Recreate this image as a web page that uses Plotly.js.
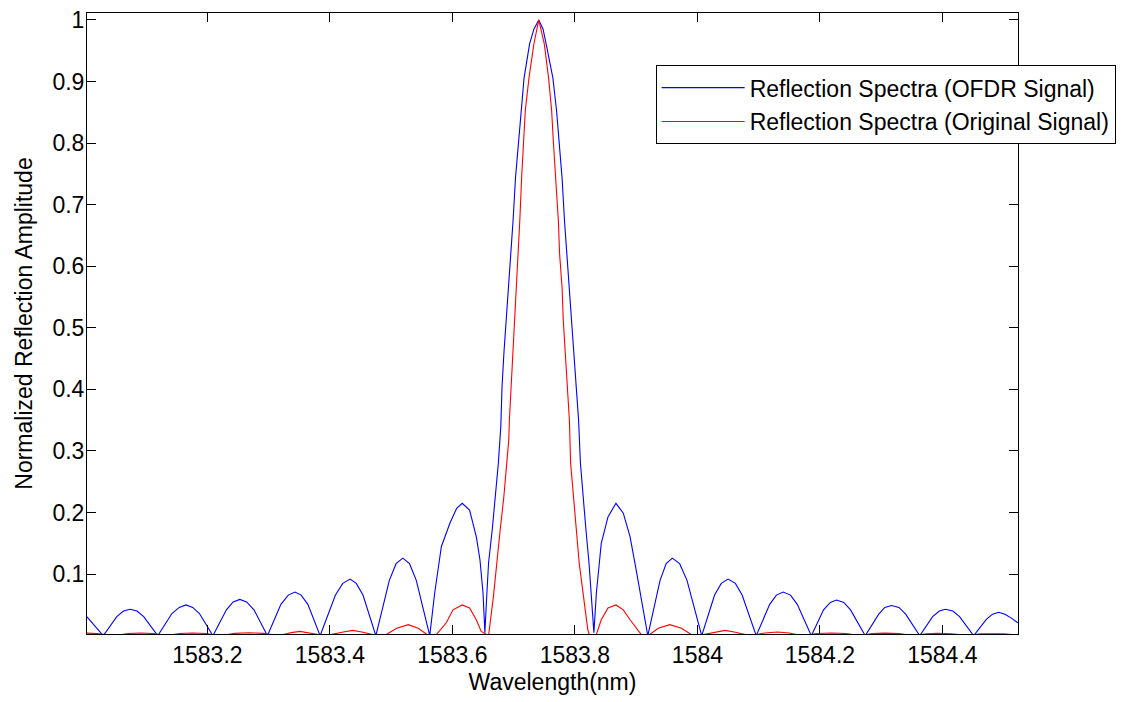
<!DOCTYPE html>
<html>
<head>
<meta charset="utf-8">
<script src="https://cdn.plot.ly/plotly-3.0.1.min.js"></script>
<style>html,body{margin:0;padding:0;background:#fff;}#chart{width:1130px;height:702px;}</style>
</head>
<body>
<div id="chart"></div>
<script>
// Blue: Reflection Spectra (OFDR Signal)
const ofdrWavelength = [
  1583.003,1583.016,1583.030,
  1583.052,1583.063,1583.074,1583.085,1583.096,1583.119,
  1583.142,1583.154,1583.165,1583.176,1583.187,1583.209,
  1583.231,1583.242,1583.253,1583.264,1583.276,1583.298,
  1583.320,1583.332,1583.343,1583.353,1583.364,1583.384,
  1583.409,1583.421,1583.433,1583.443,1583.454,1583.475,
  1583.497,1583.508,1583.519,1583.530,1583.541,1583.563,
  1583.571,1583.582,1583.596,1583.607,1583.616,1583.628,1583.639,1583.645,1583.650,1583.653,
  1583.656,1583.659,1583.665,1583.670,1583.675,1583.679,1583.681,1583.684,1583.688,1583.692,
  1583.695,1583.699,1583.703,1583.708,1583.712,1583.717,1583.726,1583.733,1583.741,
  1583.748,1583.753,1583.764,1583.770,1583.775,1583.779,1583.783,1583.787,1583.790,1583.795,
  1583.798,1583.802,1583.806,1583.809,1583.813,1583.818,1583.823,1583.827,1583.831,
  1583.835,1583.843,1583.854,1583.867,1583.879,1583.890,1583.900,1583.911,1583.919,
  1583.939,1583.949,1583.959,1583.971,1583.983,1584.007,
  1584.028,1584.039,1584.050,1584.062,1584.073,1584.096,
  1584.118,1584.129,1584.140,1584.152,1584.163,1584.186,
  1584.206,1584.217,1584.227,1584.239,1584.250,1584.274,
  1584.296,1584.306,1584.317,1584.329,1584.340,1584.363,
  1584.384,1584.395,1584.405,1584.417,1584.428,1584.451,
  1584.472,1584.482,1584.492,1584.502,1584.512,1584.523
];
const ofdrAmplitude = [
  0.031,0.016,0.000,
  0.031,0.040,0.043,0.040,0.031,0.000,
  0.036,0.046,0.050,0.046,0.036,0.000,
  0.042,0.055,0.059,0.055,0.042,0.000,
  0.051,0.066,0.071,0.066,0.051,0.000,
  0.066,0.085,0.092,0.085,0.066,0.000,
  0.090,0.117,0.126,0.117,0.090,0.000,
  0.069,0.145,0.183,0.207,0.215,0.204,0.161,0.123,0.069,0.005,
  0.064,0.118,0.172,0.226,0.280,0.340,0.404,0.458,0.512,0.566,
  0.620,0.674,0.744,0.799,0.853,0.906,0.961,0.985,1.000,
  0.985,0.961,0.906,0.853,0.799,0.744,0.674,0.620,0.566,0.512,
  0.458,0.404,0.350,0.280,0.226,0.172,0.118,0.064,0.005,
  0.069,0.150,0.193,0.215,0.199,0.161,0.107,0.047,0.000,
  0.090,0.117,0.126,0.117,0.090,0.000,
  0.066,0.085,0.092,0.085,0.066,0.000,
  0.051,0.066,0.071,0.066,0.051,0.000,
  0.042,0.054,0.058,0.054,0.042,0.000,
  0.035,0.046,0.049,0.046,0.035,0.000,
  0.031,0.040,0.043,0.040,0.031,0.000,
  0.027,0.035,0.038,0.035,0.029,0.021
];

// Red: Reflection Spectra (Original Signal)
const origWavelength = [
  1583.003,1583.020,1583.050,1583.070,1583.091,1583.112,1583.132,
  1583.155,1583.176,1583.198,1583.220,1583.245,1583.268,1583.292,1583.316,
  1583.337,1583.351,1583.365,1583.392,1583.422,1583.437,1583.452,1583.478,
  1583.492,1583.509,1583.528,1583.544,1583.560,1583.567,
  1583.574,1583.590,1583.601,1583.616,1583.628,1583.639,1583.647,1583.659,
  1583.667,1583.672,1583.678,1583.684,1583.689,1583.692,1583.693,1583.696,1583.699,1583.701,
  1583.704,1583.708,1583.710,1583.713,1583.716,1583.719,1583.725,1583.733,1583.741,
  1583.750,1583.757,1583.762,1583.765,1583.769,1583.773,1583.775,1583.779,1583.781,1583.784,
  1583.787,1583.791,1583.793,1583.798,1583.802,1583.807,1583.814,1583.821,1583.824,
  1583.835,1583.843,1583.854,1583.867,1583.879,1583.890,1583.900,1583.909,1583.915,
  1583.922,1583.936,1583.955,1583.974,1583.993,
  1584.005,1584.030,1584.045,1584.060,1584.087,
  1584.110,1584.131,1584.150,1584.169,
  1584.195,1584.219,1584.243,1584.265,
  1584.285,1584.306,1584.329,1584.352,
  1584.374,1584.392,1584.415,1584.441,
  1584.462,1584.481,1584.500,1584.523
];
const origAmplitude = [
  0.0042,0.0035,0.000,0.0036,0.0045,0.0036,0.000,
  0.0036,0.0045,0.0036,0.000,0.0038,0.0048,0.0038,0.000,
  0.005,0.007,0.005,0.000,0.006,0.0086,0.006,0.000,
  0.002,0.012,0.018,0.012,0.001,0.000,
  0.002,0.021,0.042,0.050,0.045,0.026,0.007,0.000,
  0.064,0.118,0.172,0.226,0.280,0.318,0.350,0.404,0.458,0.512,
  0.566,0.620,0.674,0.744,0.799,0.853,0.906,0.961,1.000,
  0.961,0.906,0.853,0.799,0.744,0.674,0.620,0.566,0.512,0.458,
  0.404,0.350,0.280,0.226,0.172,0.118,0.064,0.010,0.000,
  0.002,0.026,0.045,0.050,0.042,0.026,0.012,0.001,0.000,
  0.002,0.012,0.018,0.012,0.000,
  0.001,0.006,0.0086,0.006,0.000,
  0.0045,0.006,0.0045,0.000,
  0.0036,0.0045,0.0036,0.000,
  0.0035,0.0042,0.0035,0.000,
  0.0033,0.0040,0.0033,0.000,
  0.0032,0.0038,0.0032,0.001
];

const xTickVals = [1583.2, 1583.4, 1583.6, 1583.8, 1584.0, 1584.2, 1584.4];
const xTickText = ["1583.2", "1583.4", "1583.6", "1583.8", "1584", "1584.2", "1584.4"];
const yTickVals = [0.1, 0.2, 0.3, 0.4, 0.5, 0.6, 0.7, 0.8, 0.9, 1];
const yTickText = ["0.1", "0.2", "0.3", "0.4", "0.5", "0.6", "0.7", "0.8", "0.9", "1"];
const seriesNames = ["Reflection Spectra (OFDR Signal)", "Reflection Spectra (Original Signal)"];

const FONT = "Liberation Sans, Arial, sans-serif";
const FS = 23;

const traces = [
  {x: ofdrWavelength, y: ofdrAmplitude, type: "scatter", mode: "lines", name: seriesNames[0],
   line: {color: "#0000ff", width: 1.1}, legendgroup: "a"},
  {x: origWavelength, y: origAmplitude, type: "scatter", mode: "lines", name: seriesNames[1],
   line: {color: "#ff0000", width: 1.1}, legendgroup: "b"}
];

const axisCommon = {
  showline: true, linecolor: "#000", linewidth: 1, mirror: "ticks",
  ticks: "inside", ticklen: 9, tickwidth: 1, tickcolor: "#000",
  showgrid: false, zeroline: false,
  tickfont: {family: FONT, size: FS, color: "#000"}
};

const layout = {
  width: 1130, height: 702,
  paper_bgcolor: "#fff", plot_bgcolor: "#fff",
  margin: {l: 87, r: 112, t: 13, b: 68, pad: 0},
  font: {family: FONT, size: FS, color: "#000"},
  showlegend: true,
  legend: {
    x: 0.6108, y: 0.916, xanchor: "left", yanchor: "top",
    bgcolor: "#fff", bordercolor: "#000", borderwidth: 1,
    font: {family: FONT, size: FS, color: "#000"},
    traceorder: "grouped", tracegroupgap: 1, itemwidth: 83
  },
  xaxis: Object.assign({}, axisCommon, {
    range: [1583.0034, 1584.5234],
    tickmode: "array", tickvals: xTickVals, ticktext: xTickText,
    title: {text: "Wavelength(nm)", font: {family: FONT, size: FS, color: "#000"}, standoff: 7}
  }),
  yaxis: Object.assign({}, axisCommon, {
    range: [0.0028, 1.0113],
    tickmode: "array", tickvals: yTickVals, ticktext: yTickText,
    ticklabelstandoff: -3,
    title: {text: "Normalized Reflection Amplitude", font: {family: FONT, size: FS, color: "#000"}, standoff: 13}
  })
};

Plotly.newPlot("chart", traces, layout, {staticPlot: true, displayModeBar: false});
</script>
</body>
</html>
